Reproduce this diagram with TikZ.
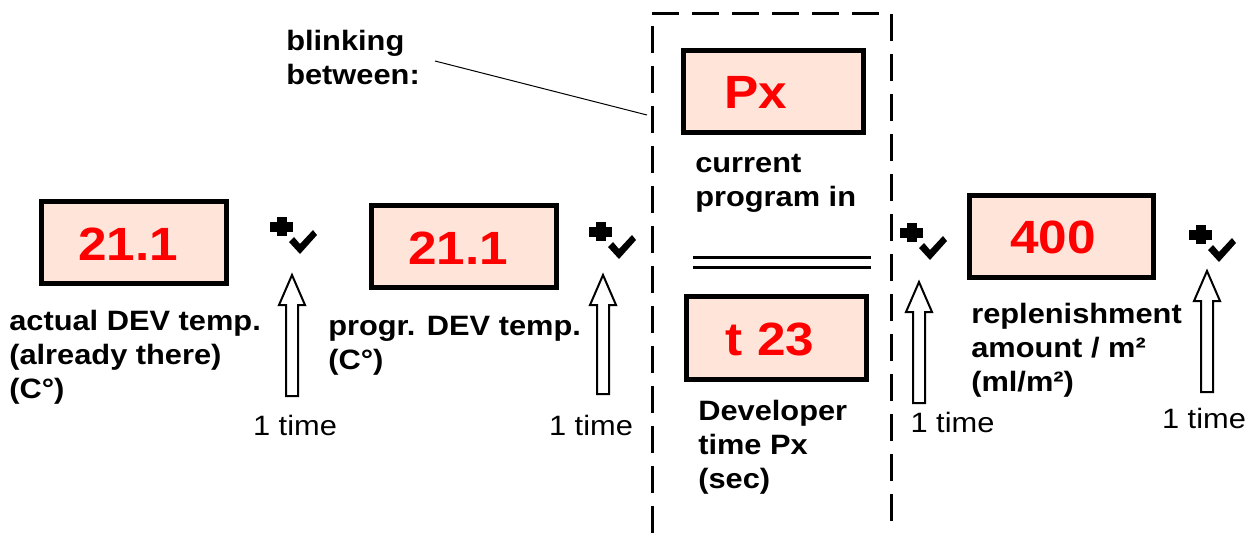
\documentclass[tikz,border=0pt]{standalone}
\usepackage{fontspec}
\setmainfont{Liberation Sans}[FakeStretch=1.1]
\definecolor{lcdfill}{RGB}{255,228,218}
\begin{document}
\begin{tikzpicture}[x=0.75pt,y=-0.75pt,
  display/.style={draw=black, line width=3.75pt, fill=lcdfill, inner sep=0pt, outer sep=0pt},
  digits/.style={text=red, font=\fontsize{35}{40}\selectfont\bfseries, anchor=base, inner sep=0pt},
  % multi-line captions are anchored at the baseline of their last line
  caption/.style={font=\fontsize{21}{25.5}\selectfont\bfseries, align=left, anchor=base west, inner sep=0pt},
  count/.style={font=\fontsize{21}{25}\selectfont, anchor=base, inner sep=0pt},
  okmark/.pic={
    \fill (0,5) rectangle (23,15);
    \fill (7,0) rectangle (17,19);
    \fill (19,25) -- (24,20) -- (30,27) -- (43,13) -- (47,18) -- (30,37) -- cycle;
  },
  hollowup/.pic={
    % tip at the origin, pointing up; shaft length set by \shaftlen
    \draw[line width=1.5pt, fill=white, line join=miter]
      (0,0) -- (13,30) -- (6,30) -- (6,\shaftlen) -- (-6,\shaftlen) -- (-6,30) -- (-13,30) -- cycle;
  }]
\useasboundingbox (0,0) rectangle (1258,533);

% frame around the alternating display
\draw[line width=2.25pt, dash pattern=on 20pt off 10pt]
  (652,533) -- (652,13) -- (891,13) -- (891,533);

% displays
\node[display, minimum width=138.75pt, minimum height=61.5pt] (d1) at (134,242.5) {};
\node[display, minimum width=138.75pt, minimum height=61.5pt] (d2) at (464,246.5) {};
\node[display, minimum width=135pt, minimum height=61.5pt] (dpx) at (773.5,91.5) {};
\node[display, minimum width=135pt, minimum height=62.25pt] (dt) at (776.5,338) {};
\node[display, minimum width=138pt, minimum height=61.5pt] (d4) at (1061.5,236.5) {};

\node[digits] (v1) at (128,260) {21.1};
\node[digits] (v2) at (458,264) {21.1};
\node[digits] (vpx) at (756,108) {Px};
\node[digits] (vt) at (770,355) {t 23};
\node[digits] (v4) at (1053,253) {400};

% separator between the two alternating values
\draw[line width=2.25pt] (693,257) -- (871,257);
\draw[line width=2.25pt] (693,267) -- (871,267);

% captions
\node[caption] (c1) at (9,398) {actual DEV temp.\\(already there)\\(C°)};
\node[caption] (c2) at (328,369) {progr. DEV temp.\\(C°)};
\node[caption] (cpx) at (695,206) {current\\program in};
\node[caption] (ct) at (698,488) {Developer\\time Px\\(sec)};
\node[caption] (c4) at (971,391) {replenishment\\amount / m²\\(ml/m²)};
\node[caption] (cb) at (286,84) {blinking\\between:};

% pointer from the note to the frame
\coordinate (pa) at (435,61);
\coordinate (pb) at (647,115);
\draw[line width=0.75pt] (pa) -- (pb);

% confirm keys
\pic at (270,217) {okmark};
\pic at (589,222) {okmark};
\pic at (900,223) {okmark};
\pic at (1189,225) {okmark};

% key presses
\def\shaftlen{121}\pic at (292,275) {hollowup};
\def\shaftlen{119}\pic at (603,275) {hollowup};
\def\shaftlen{121}\pic at (919,282) {hollowup};
\def\shaftlen{121}\pic at (1207,271) {hollowup};

\node[count] (n1) at (295,435) {1 time};
\node[count] (n2) at (591,435) {1 time};
\node[count] (n3) at (952.5,432) {1 time};
\node[count] (n4) at (1204,428) {1 time};
\end{tikzpicture}
\end{document}
